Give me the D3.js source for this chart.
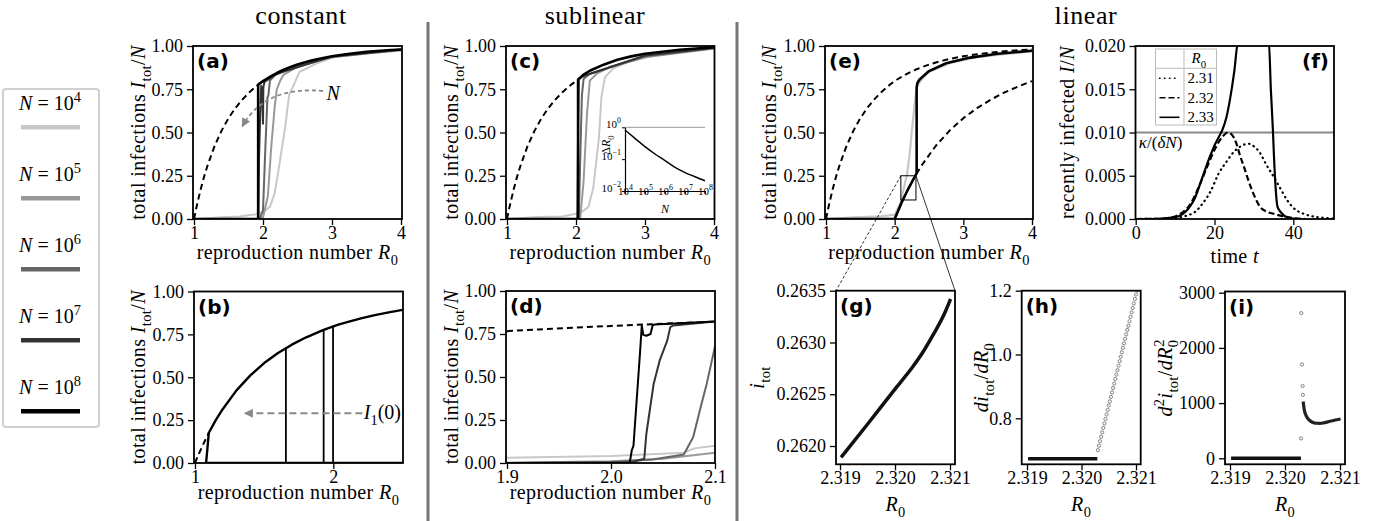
<!DOCTYPE html>
<html>
<head>
<meta charset="utf-8">
<script src="https://cdn.jsdelivr.net/npm/d3@7"></script>
<style>
  body { margin: 0; background: #fff; }
</style>
</head>
<body>
<svg id="fig" width="1396" height="521"></svg>
<script>
// ---- data ----
const nExponents = ['4', '5', '6', '7', '8'];
const nColors = ['#c8c8c8', '#999999', '#666666', '#333333', '#000000'];

// mean-field final size curve (dashed reference)
const finalSize = [[1.0,0],[1.02,0.0392],[1.05,0.0937],[1.1,0.1761],[1.15,0.25],[1.2,0.3137],[1.3,0.4235],
  [1.4,0.5108],[1.5,0.5828],[1.6,0.6413],[1.7,0.69],[1.8,0.7315],[1.9,0.7665],[1.93,0.7766],[2.0,0.7968],
  [2.03,0.8049],[2.1,0.8213],[2.2,0.8437],[2.3,0.8625],[2.4,0.8785],[2.5,0.8926],[2.6,0.9048],[2.7,0.9155],
  [2.8,0.925],[3.0,0.9405],[3.2,0.9524],[3.5,0.9659],[3.8,0.9755],[4.0,0.9802]];

// (a) constant
const a1e4 = [[1,0],[1.4,0.01],[1.66,0.015],[1.9,0.028],[2.0,0.04],[2.1,0.07],[2.17,0.15],[2.24,0.32],[2.32,0.53],
  [2.38,0.72],[2.44,0.77],[2.53,0.85],[2.78,0.9],[3.02,0.935],[3.5,0.958],[4.0,0.973]];
const a1e5 = [[1,0],[1.93,0],[2.0,0.01],[2.07,0.13],[2.12,0.42],[2.17,0.65],[2.2,0.75],[2.25,0.8],[2.3,0.835],
  [2.5,0.88],[3.0,0.935],[4.0,0.977]];
const a1e6 = [[1,0],[1.95,0],[2.0,0.05],[2.035,0.42],[2.064,0.7],[2.08,0.72],[2.1,0.8],[2.17,0.83],[2.4,0.872],
  [3.0,0.938],[4.0,0.979]];
const a1e7 = [[1,0],[1.93,0],[1.94,0.32],[1.96,0.61],[1.975,0.77],[1.99,0.72],[2.0,0.55],[2.005,0.76],[2.02,0.79],
  [2.05,0.8],[2.2,0.84],[3.0,0.94],[4.0,0.98]];
const aJump = 1.93;

// (b) constant, zoom
const bJumps = [1.657, 1.93, 1.998];
const bJumpTops = [0.675, 0.777, 0.796];
const bStart = 1.08;

// (c) sublinear
const c1e4 = [[1,0],[1.43,0.012],[1.8,0.015],[2.0,0.03],[2.1,0.045],[2.18,0.07],[2.25,0.18],[2.33,0.46],[2.37,0.71],
  [2.42,0.82],[2.54,0.87],[2.74,0.905],[3.12,0.945],[3.5,0.97],[4.0,0.985]];
const c1e5 = [[1,0],[2.06,0],[2.11,0.22],[2.16,0.61],[2.2,0.8],[2.3,0.84],[2.5,0.88],[3.0,0.935],[4.0,0.985]];
const c1e6 = [[1,0],[2.04,0],[2.06,0.32],[2.085,0.71],[2.11,0.81],[2.2,0.84],[3.0,0.94],[4.0,0.987]];
const c1e7 = [[1,0],[2.02,0],[2.03,0.51],[2.04,0.81],[2.1,0.825],[3.0,0.945],[4.0,0.99]];
const cUpper = [[2.03,0.8049],[2.1,0.832],[2.2,0.857],[2.4,0.892],[2.6,0.92],[2.8,0.94],[3.0,0.955],[3.5,0.978],[4.0,0.993]];
const cJump = 2.03;
// inset: width of transition vs N
const insetN = [1e4, 3.16e4, 1e5, 3.16e5, 1e6, 3.16e6, 1e7, 3.16e7, 1e8];
const insetDR = [0.82, 0.45, 0.247, 0.145, 0.09, 0.055, 0.038, 0.028, 0.021];

// (d) sublinear, zoom
const d1e4 = [[1.9,0.03],[2.0,0.04],[2.07,0.06],[2.08,0.085],[2.1,0.1]];
const d1e5 = [[1.9,0.002],[2.0,0.01],[2.05,0.025],[2.1,0.06]];
const d1e6 = [[1.9,0],[2.0,0.005],[2.04,0.02],[2.07,0.05],[2.079,0.15],[2.086,0.32],[2.092,0.46],[2.099,0.65],[2.1,0.68]];
const d1e7 = [[1.9,0],[2.02,0.005],[2.032,0.025],[2.034,0.17],[2.041,0.46],[2.047,0.6],[2.054,0.71],[2.057,0.79],
  [2.06,0.8],[2.1,0.823]];
const d1e8 = [[1.9,0],[2.018,0],[2.02,0.074],[2.0216,0.1],[2.028,0.65],[2.0296,0.8],[2.031,0.745],[2.034,0.74],
  [2.038,0.75],[2.04,0.8],[2.042,0.805],[2.1,0.823]];

// (e) linear
const eLowerDashed = [[2.0,0],[2.1,0.0937],[2.2,0.1761],[2.3,0.25],[2.4,0.3137],[2.6,0.4235],[2.8,0.5108],
  [3.0,0.5828],[3.2,0.6413],[3.4,0.69],[3.6,0.7315],[3.8,0.7665],[4.0,0.7968]];
const eBlack = [[1,0],[2.0,0],[2.1,0.0937],[2.2,0.1761],[2.3,0.25],[2.32,0.265],[2.32,0.76],[2.33,0.785],[2.36,0.805],
  [2.4,0.82],[2.5,0.855],[2.75,0.9],[3.1,0.933],[3.5,0.955],[4.0,0.973]];
const eGrey = [[1,0],[1.4,0.01],[1.8,0.015],[2.0,0.025],[2.08,0.09],[2.13,0.17],[2.18,0.26],[2.22,0.38],[2.25,0.51],
  [2.28,0.62],[2.3,0.7],[2.33,0.77],[2.38,0.8],[2.5,0.85],[2.8,0.9],[3.2,0.935],[4.0,0.97]];
const eZoomBox = [2.09, 2.31, 0.11, 0.25];

// (f) recently infected vs time
const fR0 = ['2.31', '2.32', '2.33'];
const f231 = [[0,0],[6,0.00002],[10,0.0001],[13,0.0004],[15,0.0008],[17,0.0018],[19,0.0032],[21,0.0052],[23,0.0066],
  [25,0.0078],[27,0.0085],[28.6,0.0087],[30,0.0084],[31.6,0.0076],[33,0.0064],[35,0.0049],[37,0.0033],[38.4,0.0022],
  [40,0.0013],[42.6,0.0006],[45,0.0003],[48.6,0.0001],[50,0.00005]];
const f232 = [[0,0],[6,0.00003],[8,0.0001],[10,0.0003],[12,0.0008],[13,0.0012],[14,0.0018],[16,0.0037],[18,0.0059],
  [20,0.008],[22,0.0095],[23.4,0.01],[24.5,0.0097],[25.5,0.0088],[26.5,0.0073],[27.5,0.006],[28.5,0.0046],
  [29.9,0.0029],[31.6,0.0014],[33,0.0009],[35,0.0006],[37.5,0.0003],[40,0.0001],[43,0]];
const f233 = [[0,0],[6,0.00003],[8,0.0001],[10,0.0002],[12,0.0006],[13,0.001],[14,0.0016],[15,0.0024],[16,0.0036],
  [17,0.0049],[18,0.0062],[19,0.0074],[20,0.0085],[21,0.0094],[22,0.0103],[23,0.0117],[24,0.014],[25,0.017],
  [26,0.0205],[33.8,0.0205],[34.3,0.015],[34.8,0.0105],[35.1,0.0072],[35.5,0.0037],[36,0.0014],[37,0.0007],
  [38.4,0.0002],[40,0.00005],[42,0]];
const fThreshold = 0.01;

// (g) i_tot near the transition
const gCurve = [[2.31902,0.26189],[2.3195,0.26221],[2.32,0.26255],[2.32033,0.26277],[2.3205,0.2629],
  [2.3207,0.26308],[2.3209,0.26328],[2.32101,0.26342]];
// (h) first derivative
const hFlat = [[2.31902,0.673],[2.32029,0.673]];
const hRise = [[2.3203,0.7],[2.32032,0.714],[2.32034,0.728],[2.32036,0.742],[2.32038,0.756],[2.3204,0.77],
  [2.32042,0.784],[2.32044,0.798],[2.32046,0.812],[2.32048,0.826],[2.3205,0.84],[2.32052,0.853],[2.32054,0.867],
  [2.32056,0.881],[2.32058,0.895],[2.3206,0.909],[2.32062,0.923],[2.32064,0.937],[2.32066,0.951],[2.32068,0.965],
  [2.3207,0.979],[2.32072,0.993],[2.32074,1.007],[2.32076,1.021],[2.32078,1.035],[2.3208,1.049],[2.32082,1.063],
  [2.32084,1.077],[2.32086,1.09],[2.32088,1.104],[2.3209,1.118],[2.32092,1.132],[2.32094,1.146],[2.32096,1.16],
  [2.32098,1.174],[2.321,1.188],[2.32102,1.201]];
// (i) second derivative
const iFlat = [[2.31902,0],[2.32029,0]];
const iOutliers = [[2.32029,360],[2.320297,2630],[2.32031,1700],[2.32032,1310],[2.320325,1150]];
const iCluster = [[2.32033,1030],[2.32035,880],[2.32039,760],[2.32045,685],[2.32052,645],[2.32058,635],
  [2.32064,634],[2.3207,642],[2.32078,660],[2.32086,680],[2.32094,698],[2.32101,712]];

// ---- layout ----
const L = {
  a: { frame: [193, 46, 402, 219], xr: [194, 401], yr: [219, 46] },
  b: { frame: [194, 291.5, 403, 463], xr: [195, 402.5], yr: [463, 291.5] },
  c: { frame: [506, 46, 714.5, 219], xr: [507, 714], yr: [219, 46] },
  d: { frame: [506, 291, 715, 463], xr: [507, 715], yr: [463, 291] },
  e: { frame: [825, 46, 1033, 219], xr: [826, 1032], yr: [219, 46] },
  f: { frame: [1135.5, 46, 1334, 219], xr: [1135.7, 1332.7], yr: [219, 46] },
  g: { frame: [836, 290.7, 955, 464.3], xr: [840, 950], yr: [446, 290.7] },
  h: { frame: [1021.7, 290.7, 1140.7, 464.3], xr: [1027, 1136], yr: [418.3, 290.7] },
  i: { frame: [1225, 291.5, 1345, 464.3], xr: [1230, 1340], yr: [458.3, 292.7] }
};
const TICK = 18, LAB = 20;
const SERIF = 'Liberation Serif';

const svg = d3.select('#fig');
const defs = svg.append('defs');
defs.append('marker').attr('id', 'ah').attr('viewBox', '0 0 10 10')
  .attr('refX', 9).attr('refY', 5).attr('markerWidth', 11).attr('markerHeight', 9)
  .attr('markerUnits', 'userSpaceOnUse').attr('orient', 'auto')
  .append('path').attr('d', 'M0,0 L10,5 L0,10 z').attr('fill', '#888');

// every text gets its font set on the element itself
function txt(parent) {
  return parent.append('text').attr('font-family', SERIF);
}

// text with italic / sub / superscript pieces
function rich(sel, parts, size) {
  let cur = 0;
  parts.forEach(([s, k, dx]) => {
    const sub = k.endsWith('sub'), sup = k.endsWith('sup');
    const off = sub ? 0.3 * size : sup ? -0.42 * size : 0;
    const ts = sel.append('tspan').text(s).attr('font-family', SERIF)
      .attr('font-size', (sub || sup) ? size * 0.72 : size)
      .attr('dy', off - cur);
    if (dx) ts.attr('dx', dx);
    if (k[0] === 'i') ts.attr('font-style', 'italic');
    cur = off;
  });
  return sel;
}

function panel(key, cfg) {
  const [fl, ft, fr, fb] = L[key].frame;
  const x = d3.scaleLinear().domain(cfg.x).range(L[key].xr);
  const y = d3.scaleLinear().domain(cfg.y).range(L[key].yr);
  defs.append('clipPath').attr('id', 'clip-' + key).append('rect')
    .attr('x', fl).attr('y', ft).attr('width', fr - fl).attr('height', fb - ft);
  const g = svg.append('g');
  const plot = g.append('g').attr('clip-path', `url(#clip-${key})`);
  const ax = g.append('g').attr('transform', `translate(0,${fb})`)
    .call(d3.axisBottom(x).tickValues(cfg.xt).tickFormat(d3.format(cfg.xf))
      .tickSize(6).tickPadding(1).tickSizeOuter(0));
  const ay = g.append('g').attr('transform', `translate(${fl},0)`)
    .call(d3.axisLeft(y).tickValues(cfg.yt).tickFormat(d3.format(cfg.yf))
      .tickSize(6).tickPadding(4).tickSizeOuter(0));
  [ax, ay].forEach(a => {
    a.attr('font-size', TICK).attr('font-family', SERIF);
    a.selectAll('text').attr('font-family', SERIF);
    a.select('.domain').remove();
    a.selectAll('line').attr('stroke-width', 1.3);
  });
  g.append('rect').attr('x', fl).attr('y', ft).attr('width', fr - fl).attr('height', fb - ft)
    .attr('fill', 'none').attr('stroke', '#000').attr('stroke-width', 1.8);
  if (cfg.letter) {
    const right = cfg.letterRight;
    svg.append('text').attr('x', right ? fr - 5 : fl + 4).attr('y', ft + 22)
      .attr('text-anchor', right ? 'end' : 'start')
      .attr('font-family', 'DejaVu Sans').attr('font-weight', 'bold')
      .attr('font-size', 20).text(cfg.letter);
  }
  return { g, plot, x, y, fl, ft, fr, fb };
}

function draw(p, data, color, w, dash, curve) {
  const line = d3.line().x(d => p.x(d[0])).y(d => p.y(d[1])).curve(curve || d3.curveLinear);
  return p.plot.append('path').datum(data).attr('fill', 'none').attr('stroke', color)
    .attr('stroke-width', w).attr('stroke-dasharray', dash || null)
    .attr('stroke-linejoin', 'round').attr('d', line);
}

function ylab(p, bx, parts, size) {
  const t = txt(svg).attr('text-anchor', 'middle').attr('letter-spacing', 0.4)
    .attr('transform', `translate(${bx},${(p.ft + p.fb) / 2}) rotate(-90)`);
  rich(t, parts, size || LAB);
}
function xlab(p, by, parts) {
  const t = txt(svg).attr('text-anchor', 'middle').attr('letter-spacing', 0.4)
    .attr('x', (p.fl + p.fr) / 2).attr('y', by);
  rich(t, parts, LAB);
}

const itotLabel = [['total infections ', 'r'], ['I', 'i'], ['tot', 'sub'], ['/', 'r'], ['N', 'i']];
const r0Label = [['reproduction number ', 'r'], ['R', 'i'], ['0', 'sub']];
const DASH = '6,4';

// ---- separators and column titles ----
[428, 737].forEach(xs => svg.append('line').attr('x1', xs).attr('x2', xs).attr('y1', 22).attr('y2', 521)
  .attr('stroke', '#777').attr('stroke-width', 3));
[['constant', 301], ['sublinear', 595], ['linear', 1086]].forEach(([t, xc]) =>
  txt(svg).attr('x', xc).attr('y', 24).attr('text-anchor', 'middle').attr('font-size', 26)
    .attr('letter-spacing', 0.6).text(t));

// ---- left legend ----
svg.append('rect').attr('x', 3).attr('y', 89).attr('width', 96).attr('height', 338).attr('rx', 3)
  .attr('fill', '#fff').attr('stroke', '#cfcfcf').attr('stroke-width', 2);
nExponents.forEach((e, k) => {
  const yy = 127.3 + 71 * k;
  rich(txt(svg).attr('x', 50).attr('y', yy - 17).attr('text-anchor', 'middle'),
    [['N', 'i'], [' = 10', 'r'], [e, 'sup']], 20);
  svg.append('line').attr('x1', 21).attr('x2', 80).attr('y1', yy).attr('y2', yy)
    .attr('stroke', nColors[k]).attr('stroke-width', 4.5);
});

// ---- (a) ----
const pa = panel('a', { x: [1, 4], y: [0, 1], xt: [1, 2, 3, 4], xf: 'd', yt: [0, .25, .5, .75, 1], yf: '.2f', letter: '(a)' });
[a1e4, a1e5, a1e6, a1e7].forEach((s, k) => draw(pa, s, nColors[k], 2));
draw(pa, finalSize.filter(d => d[0] <= aJump), '#000', 2, DASH);
draw(pa, [[1, 0], [aJump, 0]].concat(finalSize.filter(d => d[0] >= aJump)), '#000', 2.6);
{
  const s = [2.87, 0.74], c = [2.02, 0.77], e = [1.7, 0.535];
  svg.append('path').attr('fill', 'none').attr('stroke', '#888').attr('stroke-width', 1.8)
    .attr('stroke-dasharray', '4,3').attr('marker-end', 'url(#ah)')
    .attr('d', `M${pa.x(s[0])},${pa.y(s[1])} Q${pa.x(c[0])},${pa.y(c[1])} ${pa.x(e[0])},${pa.y(e[1])}`);
  rich(txt(svg).attr('x', pa.x(2.92)).attr('y', pa.y(0.69)), [['N', 'i']], LAB);
}
ylab(pa, 145, itotLabel);
xlab(pa, 259, r0Label);

// ---- (b) ----
const pb = panel('b', { x: [1, 2.5], y: [0, 1], xt: [1, 2], xf: 'd', yt: [0, .25, .5, .75, 1], yf: '.2f', letter: '(b)' });
draw(pb, finalSize.filter(d => d[0] <= 1.1), '#000', 2, DASH);
draw(pb, [[bStart, 0]].concat(finalSize.filter(d => d[0] >= 1.1 && d[0] <= 2.5)), '#000', 2.4);
draw(pb, [[bStart, 0], [2.5, 0]], '#000', 2.4);
bJumps.forEach((r, k) => draw(pb, [[r, 0], [r, bJumpTops[k]]], '#000', 1.8));
{
  svg.append('line').attr('x1', pb.x(2.21)).attr('x2', pb.x(1.36)).attr('y1', pb.y(0.29)).attr('y2', pb.y(0.29))
    .attr('stroke', '#888').attr('stroke-width', 1.8).attr('stroke-dasharray', '7,4').attr('marker-end', 'url(#ah)');
  rich(txt(svg).attr('x', pb.x(2.22)).attr('y', pb.y(0.29) + 6),
    [['I', 'i'], ['1', 'sub'], ['(0)', 'r']], LAB);
}
ylab(pb, 145, itotLabel);
xlab(pb, 499, r0Label);

// ---- (c) ----
const pc = panel('c', { x: [1, 4], y: [0, 1], xt: [1, 2, 3, 4], xf: 'd', yt: [0, .25, .5, .75, 1], yf: '.2f', letter: '(c)' });
[c1e4, c1e5, c1e6, c1e7].forEach((s, k) => draw(pc, s, nColors[k], 2));
draw(pc, finalSize.filter(d => d[0] <= cJump), '#000', 2, DASH);
draw(pc, [[1, 0], [cJump, 0]].concat(cUpper), '#000', 2.6);
{
  const xi = d3.scaleLog().domain([1e4, 1e8]).range([625, 705]);
  const yi = d3.scaleLog().domain([1e-2, 1]).range([191, 127.3]);
  const gi = svg.append('g');
  gi.append('line').attr('x1', 625).attr('x2', 705).attr('y1', yi(1)).attr('y2', yi(1))
    .attr('stroke', '#999').attr('stroke-width', 1);
  const supLabel = d => String(Math.round(Math.log10(d))).replace('-', '\u2212');
  const bx = gi.append('g').attr('transform', 'translate(0,191)')
    .call(d3.axisBottom(xi).tickValues([1e4, 1e5, 1e6, 1e7, 1e8]).tickSize(3).tickPadding(1).tickSizeOuter(0));
  const by = gi.append('g').attr('transform', 'translate(625,0)')
    .call(d3.axisLeft(yi).tickValues([1e-2, 1e-1, 1]).tickSize(3).tickPadding(1).tickSizeOuter(0));
  [bx, by].forEach(a => {
    a.attr('font-size', 11).attr('font-family', SERIF);
    a.select('.domain').attr('stroke-width', 1.2);
    a.selectAll('text').attr('font-family', SERIF).each(function (d) {
      const t = d3.select(this).text('');
      rich(t, [['10', 'r'], [supLabel(d), 'sup']], 11);
    });
  });
  gi.append('path').datum(insetN.map((n, k) => [n, insetDR[k]])).attr('fill', 'none')
    .attr('stroke', '#000').attr('stroke-width', 1.4)
    .attr('d', d3.line().x(d => xi(d[0])).y(d => yi(d[1])).curve(d3.curveMonotoneX));
  rich(txt(gi).attr('x', 665).attr('y', 213).attr('text-anchor', 'middle'), [['N', 'i']], 12);
  rich(txt(gi).attr('text-anchor', 'middle').attr('transform', 'translate(610,145) rotate(-90)'),
    [['\u0394', 'r'], ['R', 'i'], ['0', 'sub']], 12);
}
ylab(pc, 458, itotLabel);
xlab(pc, 259, r0Label);

// ---- (d) ----
const pd = panel('d', { x: [1.9, 2.1], y: [0, 1], xt: [1.9, 2.0, 2.1], xf: '.1f', yt: [0, .25, .5, .75, 1], yf: '.2f', letter: '(d)' });
draw(pd, finalSize.filter(d => d[0] >= 1.9 && d[0] <= 2.1), '#000', 2, DASH);
[d1e4, d1e5, d1e6, d1e7, d1e8].forEach((s, k) => draw(pd, s, nColors[k], 2));
ylab(pd, 458, itotLabel);
xlab(pd, 499, r0Label);

// ---- (e) ----
const pe = panel('e', { x: [1, 4], y: [0, 1], xt: [1, 2, 3, 4], xf: 'd', yt: [0, .25, .5, .75, 1], yf: '.2f', letter: '(e)' });
draw(pe, finalSize, '#000', 2, DASH);
draw(pe, eLowerDashed, '#000', 2, DASH);
draw(pe, eGrey, nColors[0], 2.2);
draw(pe, eBlack, '#000', 2.6);
{
  const [x0, x1, y0, y1] = eZoomBox;
  pe.g.append('rect').attr('x', pe.x(x0)).attr('y', pe.y(y1)).attr('width', pe.x(x1) - pe.x(x0))
    .attr('height', pe.y(y0) - pe.y(y1)).attr('fill', 'none').attr('stroke', '#000').attr('stroke-width', 1);
  const gl = L.g.frame;
  svg.append('line').attr('x1', pe.x(x0)).attr('y1', pe.y(y1)).attr('x2', gl[0]).attr('y2', gl[1])
    .attr('stroke', '#000').attr('stroke-width', 0.8).attr('stroke-dasharray', '3,2');
  svg.append('line').attr('x1', pe.x(x1)).attr('y1', pe.y(y1)).attr('x2', gl[2]).attr('y2', gl[1])
    .attr('stroke', '#000').attr('stroke-width', 0.8);
}
ylab(pe, 776, itotLabel);
xlab(pe, 259, r0Label);

// ---- (f) ----
const pf = panel('f', { x: [0, 50], y: [0, 0.02], xt: [0, 20, 40], xf: 'd', yt: [0, .005, .01, .015, .02], yf: '.3f', letter: '(f)', letterRight: true });
pf.plot.append('line').attr('x1', pf.fl).attr('x2', pf.fr).attr('y1', pf.y(fThreshold)).attr('y2', pf.y(fThreshold))
  .attr('stroke', '#888').attr('stroke-width', 2.2);
const fStyles = [['0.5,4.5'], ['6,3'], [null]];
[f231, f232, f233].forEach((s, k) => draw(pf, s, '#000', 2.2, fStyles[k][0], d3.curveMonotoneX)
  .attr('stroke-linecap', k === 0 ? 'round' : 'butt'));
rich(txt(svg).attr('x', pf.x(0.8)).attr('y', pf.y(0.0082)),
  [['\u03BA', 'i'], ['/(', 'r'], ['\u03B4N', 'i'], [')', 'r']], 17);
{
  const lx = pf.fl + 20, ly = pf.ft + 3;
  const lg = svg.append('g');
  lg.append('rect').attr('x', lx).attr('y', ly).attr('width', 61).attr('height', 76)
    .attr('fill', '#fff').attr('stroke', '#bbb').attr('stroke-width', 1);
  lg.append('line').attr('x1', lx + 28.5).attr('x2', lx + 28.5).attr('y1', ly).attr('y2', ly + 76)
    .attr('stroke', '#bbb');
  lg.append('line').attr('x1', lx).attr('x2', lx + 61).attr('y1', ly + 19.3).attr('y2', ly + 19.3)
    .attr('stroke', '#bbb');
  rich(txt(lg).attr('x', lx + 36).attr('y', ly + 14), [['R', 'i'], ['0', 'sub']], 15);
  fR0.forEach((r, k) => {
    const yy = ly + 29.3 + k * 19.5;
    lg.append('line').attr('x1', lx + 4).attr('x2', lx + 24).attr('y1', yy).attr('y2', yy)
      .attr('stroke', '#000').attr('stroke-width', 1.6)
      .attr('stroke-dasharray', fStyles[k][0]).attr('stroke-linecap', k === 0 ? 'round' : 'butt');
    txt(lg).attr('x', lx + 32).attr('y', yy + 5).attr('font-size', 15).text(r);
  });
}
ylab(pf, 1074, [['recently infected ', 'r'], ['I', 'i'], ['/', 'r'], ['N', 'i']]);
xlab(pf, 263, [['time ', 'r'], ['t', 'i']]);

// ---- (g) ----
const pg = panel('g', { x: [2.319, 2.321], y: [0.262, 0.2635], xt: [2.319, 2.320, 2.321], xf: '.3f', yt: [0.262, 0.2625, 0.263, 0.2635], yf: '.4f', letter: '(g)' });
draw(pg, gCurve, '#111', 3.5, null, d3.curveMonotoneX);
ylab(pg, 764, [['i', 'i'], ['tot', 'sub']]);
xlab(pg, 511, [['R', 'i'], ['0', 'sub']]);

// ---- (h) ----
const ph = panel('h', { x: [2.319, 2.321], y: [0.8, 1.2], xt: [2.319, 2.320, 2.321], xf: '.3f', yt: [0.8, 1.0, 1.2], yf: '.1f', letter: '(h)' });
draw(ph, hFlat, '#111', 3.5);
ph.plot.selectAll('circle.rise').data(hRise).join('circle').attr('class', 'rise')
  .attr('cx', d => ph.x(d[0])).attr('cy', d => ph.y(d[1])).attr('r', 1.6)
  .attr('fill', 'none').attr('stroke', '#666').attr('stroke-width', 0.8);
ylab(ph, 988, [['di', 'i'], ['tot', 'sub'], ['/', 'r'], ['dR', 'i'], ['0', 'sub']]);
xlab(ph, 511, [['R', 'i'], ['0', 'sub']]);

// ---- (i) ----
const pi = panel('i', { x: [2.319, 2.321], y: [0, 3000], xt: [2.319, 2.320, 2.321], xf: '.3f', yt: [0, 1000, 2000, 3000], yf: 'd', letter: '(i)' });
draw(pi, iFlat, '#111', 3.5);
draw(pi, iCluster, '#222', 3.2, null, d3.curveMonotoneX);
pi.plot.selectAll('circle.out').data(iOutliers).join('circle').attr('class', 'out')
  .attr('cx', d => pi.x(d[0])).attr('cy', d => pi.y(d[1])).attr('r', 1.6)
  .attr('fill', 'none').attr('stroke', '#666').attr('stroke-width', 0.8);
ylab(pi, 1172, [['d', 'i'], ['2', 'sup'], ['i', 'i'], ['tot', 'sub'], ['/', 'r'], ['dR', 'i'], ['0', 'sub'], ['2', 'sup', -7.2]]);
xlab(pi, 511, [['R', 'i'], ['0', 'sub']]);
</script>
</body>
</html>
